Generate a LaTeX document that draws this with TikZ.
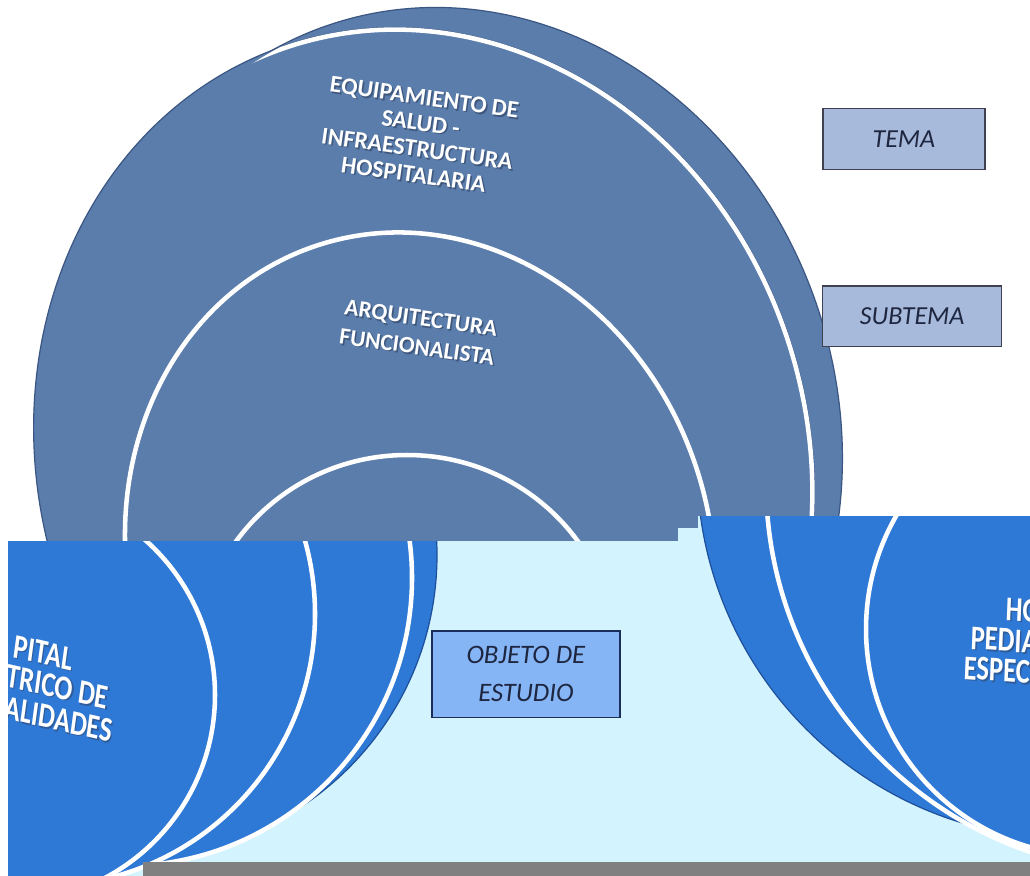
\documentclass[tikz,border=0pt]{standalone}
\usepackage{fontspec}
\setmainfont{Carlito}
\definecolor{slate}{HTML}{5A7DAC}
\definecolor{rim}{HTML}{3B5682}
\definecolor{bblue}{HTML}{2E79D6}
\definecolor{brim}{HTML}{1E4F9A}
\definecolor{cyanbg}{HTML}{D3F4FE}
\definecolor{graybar}{HTML}{808080}
\definecolor{temafill}{HTML}{A7BADB}
\definecolor{temaedge}{HTML}{3F4150}
\definecolor{objfill}{HTML}{85B5F5}
\definecolor{objedge}{HTML}{1B2D5B}
\definecolor{boxtext}{HTML}{1E2640}
\definecolor{shade}{HTML}{2E3F5E}
\begin{document}
\begin{tikzpicture}[x=0.75pt,y=-0.75pt,
  wline/.style={draw=white, line width=3.4pt},
  toptext/.style={text=white, align=center, inner sep=0pt, rotate=-8},
  topshadow/.style={text=shade, opacity=0.6, align=center, inner sep=0pt, rotate=-8},
  btext/.style={text=white, inner sep=0pt, anchor=base west, font=\fontsize{20}{24}\selectfont\bfseries},
  bshadow/.style={text=shade, opacity=0.5, inner sep=0pt, anchor=base west, font=\fontsize{20}{24}\selectfont\bfseries},
  labelbox/.style={draw=temaedge, fill=temafill, line width=1.1pt, text=boxtext, inner sep=0pt, align=center, font=\fontsize{19.5}{24}\selectfont\itshape},
  objbox/.style={draw=objedge, fill=objfill, line width=1.1pt, text=boxtext, inner sep=0pt, align=center, font=\fontsize{20}{28.5}\selectfont\itshape}
]
\useasboundingbox (0,0) rectangle (1030,875);
\fill[white] (0,0) rectangle (1030,875);

% ---- top: stacked ellipses ----
\path[fill=slate, draw=rim, line width=0.9pt, rotate around={18:(463.7,427)}] (463.7,427) ellipse [x radius=373.5, y radius=424];
\path[fill=slate, draw=rim, line width=0.9pt, rotate around={18:(424,460)}] (424,460) ellipse [x radius=385, y radius=437];
\begin{scope}
  \clip[rotate around={18:(463.7,427)}] (463.7,427) ellipse [x radius=372.5, y radius=423];
  \draw[wline, rotate around={18:(424,460)}] (424,460) ellipse [x radius=383, y radius=435];
\end{scope}
\path[fill=slate, wline, rotate around={18:(420,559)}] (420,559) ellipse [x radius=291, y radius=330];
\path[fill=slate, wline] (407,661) ellipse [x radius=210, y radius=206];

\node[topshadow, font=\fontsize{18}{19.5}\selectfont\bfseries] (t1s) at (420.5,137.5) {EQUIPAMIENTO DE\\SALUD -\\INFRAESTRUCTURA\\HOSPITALARIA};
\node[toptext, font=\fontsize{18}{19.5}\selectfont\bfseries] (t1) at (419,136) {EQUIPAMIENTO DE\\SALUD -\\INFRAESTRUCTURA\\HOSPITALARIA};
\node[topshadow, font=\fontsize{17.5}{21.75}\selectfont\bfseries] (t2s) at (420.5,334) {ARQUITECTURA\\FUNCIONALISTA};
\node[toptext, font=\fontsize{17.5}{21.75}\selectfont\bfseries] (t2) at (419,332.5) {ARQUITECTURA\\FUNCIONALISTA};

% ---- right labels ----
\node[labelbox, minimum width=121.7pt, minimum height=45.75pt] (tema) at (903.9,138.8) {TEMA};
\node[labelbox, minimum width=134.25pt, minimum height=45.5pt] (subtema) at (912.2,316.4) {SUBTEMA};

% ---- bottom left picture ----
\begin{scope}
  \clip (8,541) rectangle (698,882);
  \fill[cyanbg] (8,541) rectangle (698,882);
  \path[fill=bblue, draw=brim, line width=0.9pt] (136,555) circle [radius=301];
  \path[fill=bblue, wline] (124,578) circle [radius=288];
  \path[fill=bblue, wline] (43,614) circle [radius=272];
  \path[fill=bblue, wline] (8,695) circle [radius=207];
  \node[bshadow, yscale=1.3, rotate=-10] (l1s) at (13.5,658.5) {PITAL};
  \node[btext, yscale=1.3, rotate=-10] (l1) at (12,657) {PITAL};
  \node[bshadow, yscale=1.3, rotate=-10] (l2s) at (6.5,687.5) {TRICO DE};
  \node[btext, yscale=1.3, rotate=-10] (l2) at (5,686) {TRICO DE};
  \node[bshadow, yscale=1.3, rotate=-10] (l3s) at (4.5,719.5) {ALIDADES};
  \node[btext, yscale=1.3, rotate=-10] (l3) at (3,718) {ALIDADES};
\end{scope}

% ---- bottom right picture ----
\begin{scope}
  \clip (698,516) rectangle (1030,862);
  \fill[cyanbg] (698,516) rectangle (1030,862);
  \path[fill=bblue, draw=brim, line width=0.9pt] (1071,465) circle [radius=374];
  \path[fill=bblue, wline] (1157,482) circle [radius=391];
  \path[fill=bblue, wline] (1093,629) circle [radius=227];
  \node[bshadow, yscale=1.3, rotate=-3] (r1s) at (1006.5,621.5) {HO};
  \node[btext, yscale=1.3, rotate=-3] (r1) at (1005,620) {HO};
  \node[bshadow, yscale=1.3, rotate=-3] (r2s) at (971.5,650.5) {PEDIA};
  \node[btext, yscale=1.3, rotate=-3] (r2) at (970,649) {PEDIA};
  \node[bshadow, yscale=1.3, rotate=-3] (r3s) at (964.5,680.5) {ESPEC};
  \node[btext, yscale=1.3, rotate=-3] (r3) at (963,679) {ESPEC};
\end{scope}
\fill[cyanbg] (678,528) rectangle (698,541);
\fill[graybar] (143,862) rectangle (1032,882);

% ---- object box ----
\node[objbox, minimum width=141.2pt, minimum height=64.7pt] (objeto) at (525.9,674.2) {OBJETO DE\\ESTUDIO};
\end{tikzpicture}
\end{document}
